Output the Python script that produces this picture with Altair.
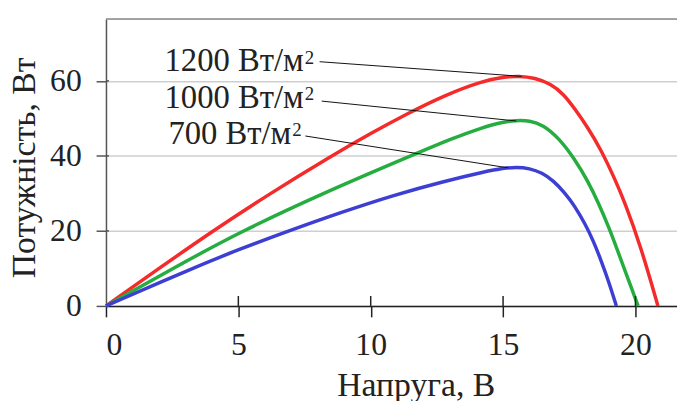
import altair as alt
import pandas as pd

# ---- data ----
red_v = [0, 2.0, 4.04, 6.16, 8.52, 10.0, 11.39, 12.8, 14.24, 15.0, 15.6, 16.2, 16.8, 17.3, 17.7, 18.2, 18.7, 19.2, 19.6, 20.2, 20.85]
red_p = [0, 10.0, 20.0, 29.8, 40.0, 46.0, 51.3, 56.2, 60.0, 61.0, 61.3, 60.8, 59.2, 56.4, 52.6, 47.6, 41.6, 34.2, 27.6, 15.9, 0]

green_v = [0, 2.6, 5.03, 8.15, 11.51, 13.13, 14.2, 14.9, 15.5, 16.0, 16.5, 17.1, 17.7, 18.2, 18.6, 19.0, 19.34, 19.7, 20.1]
green_p = [0, 10.3, 19.6, 29.9, 40.0, 44.8, 47.5, 48.9, 49.5, 49.4, 48.3, 44.8, 39.2, 33.3, 27.5, 20.9, 14.5, 7.6, 0]

blue_v = [0, 3.35, 5.0, 6.9, 8.9, 10.9, 12.7, 14.38, 15.0, 15.5, 16.0, 16.47, 16.9, 17.34, 17.7, 18.09, 18.4, 18.71, 19.0, 19.28]
blue_p = [0, 10.3, 15.0, 20.0, 25.0, 29.6, 33.1, 35.9, 36.7, 37.0, 36.7, 35.5, 33.4, 30.1, 26.7, 22.0, 17.5, 12.0, 6.3, 0]

series_names = ["1200", "1000", "700"]
series_colors = ["#f52a2a", "#25ad3f", "#3d3ed3"]

label_main = ["1200 Вт/м", "1000 Вт/м", "700 Вт/м"]
label_sup = ["2", "2", "2"]
label_end_x = [7.47, 7.47, 7.0]
label_y = [62.5, 52.8, 43.1]

leader_x1 = [8.07, 8.15, 7.53]
leader_y1 = [65.1, 54.6, 45.3]
leader_x2 = [15.7, 15.5, 15.2]
leader_y2 = [61.2, 49.3, 36.8]

x_ticks = [0, 5, 10, 15, 20]
y_ticks = [0, 20, 40, 60]
x_max = 21.57
y_max = 76.5

x_title = "Напруга, В"
y_title = "Потужність, Вт"

FONT = "Liberation Serif"
W, H = 577, 290

rows = []
for name, vs, ps in zip(series_names, [red_v, green_v, blue_v], [red_p, green_p, blue_p]):
    for i, (v, p) in enumerate(zip(vs, ps)):
        rows.append({"series": name, "V": v, "P": p, "order": i})
curves = pd.DataFrame(rows)

labels = pd.DataFrame({"main": label_main, "sup": label_sup, "x": label_end_x, "y": label_y})
leaders = pd.DataFrame({"x1": leader_x1, "y1": leader_y1, "x2": leader_x2, "y2": leader_y2})
xt = pd.DataFrame({"t": x_ticks[1:]})
yt = pd.DataFrame({"t": y_ticks[1:]})
topdf = pd.DataFrame({"t": [y_max]})

xscale = alt.Scale(domain=[0, x_max], nice=False, zero=False)
yscale = alt.Scale(domain=[0, y_max], nice=False, zero=False)

xaxis = alt.Axis(
    values=x_ticks, title=x_title, grid=False, domainColor="#222", domainWidth=1.5,
    tickColor="#222", tickWidth=1.5, tickSize=11, labelPadding=13, labelFlush=True,
    labelFont=FONT, labelFontSize=32, labelColor="#222",
    titleFont=FONT, titleFontSize=34, titleFontWeight="normal", titleColor="#222",
    titleX=313, titleY=91, titleBaseline="alphabetic", titleAlign="center",
)
yaxis = alt.Axis(
    values=y_ticks, title=y_title, grid=True, gridColor="#cfcfcf", gridWidth=1.5,
    domainColor="#555", domainWidth=1.5, tickColor="#555", tickWidth=1.5, tickSize=10,
    labelPadding=15, labelFont=FONT, labelFontSize=32, labelColor="#222",
    titleFont=FONT, titleFontSize=34, titleFontWeight="normal", titleColor="#222",
    titleAngle=-90, titleX=-72, titleY=150, titleBaseline="alphabetic", titleAlign="center",
)

base_lines = alt.Chart(curves).mark_line(strokeWidth=3.5, interpolate="basis").encode(
    x=alt.X("V:Q", scale=xscale, axis=xaxis),
    y=alt.Y("P:Q", scale=yscale, axis=yaxis),
    color=alt.Color("series:N", scale=alt.Scale(domain=series_names, range=series_colors), legend=None),
    order="order:Q",
)

top_rule = alt.Chart(topdf).mark_rule(color="#8a8a8a", strokeWidth=1.5).encode(
    y=alt.Y("t:Q", scale=yscale), x=alt.value(0), x2=alt.value(W)
)

inner_xticks = alt.Chart(xt).mark_rule(color="#222", strokeWidth=1.5).encode(
    x=alt.X("t:Q", scale=xscale), y=alt.value(H), y2=alt.value(H - 10)
)
inner_yticks = alt.Chart(yt).mark_rule(color="#555", strokeWidth=1.5).encode(
    y=alt.Y("t:Q", scale=yscale), x=alt.value(0), x2=alt.value(3)
)

leader_rules = alt.Chart(leaders).mark_rule(color="#111", strokeWidth=1).encode(
    x=alt.X("x1:Q", scale=xscale), y=alt.Y("y1:Q", scale=yscale),
    x2="x2:Q", y2="y2:Q",
)

main_text = alt.Chart(labels).mark_text(
    font=FONT, fontSize=33, align="right", baseline="alphabetic", color="#222"
).encode(
    x=alt.X("x:Q", scale=xscale), y=alt.Y("y:Q", scale=yscale), text="main:N"
)
sup_text = alt.Chart(labels).mark_text(
    font=FONT, fontSize=19, align="left", baseline="alphabetic", color="#222", dx=1, dy=-8
).encode(
    x=alt.X("x:Q", scale=xscale), y=alt.Y("y:Q", scale=yscale), text="sup:N"
)

chart = alt.layer(
    top_rule, base_lines, leader_rules, inner_xticks, inner_yticks, main_text, sup_text
).properties(
    width=W, height=H,
    autosize=alt.AutoSizeParams(type="none"),
    padding={"left": 99, "top": 9, "right": 0, "bottom": 94},
).configure_view(stroke=None).configure(background="white")

chart.save("out.html", embed_options={"renderer": "svg", "actions": False})
